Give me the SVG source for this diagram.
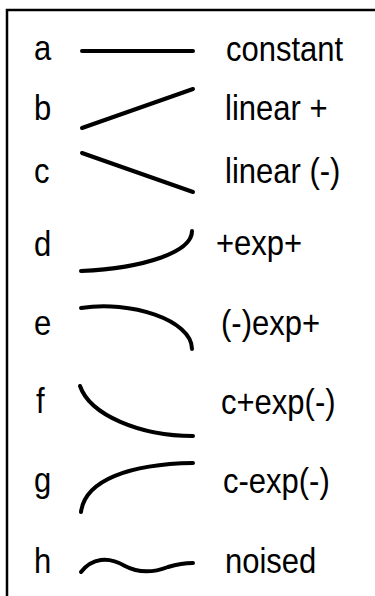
<svg xmlns="http://www.w3.org/2000/svg" width="375" height="596" viewBox="0 0 375 596">
<style>
text{font-family:"Liberation Sans",Arial,sans-serif;font-size:31px;fill:#000}
.c{fill:none;stroke:#000;stroke-width:4;stroke-linecap:round}
.f{fill:none;stroke:#000;stroke-width:2.5}
</style>
<rect width="375" height="596" fill="#fff"/>
<path class="f" d="M7,596 V10 H375"/>
<g id="row-a"><text transform="matrix(1,0,0,1.14,34,60)">a</text><path class="c" d="M82,51 H193"/><text transform="matrix(1,0,0,1.14,226,61)">constant</text></g>
<g id="row-b"><text transform="matrix(1,0,0,1.14,34,120)">b</text><path class="c" d="M82,128 L193,89"/><text transform="matrix(1,0,0,1.14,225,120)">linear +</text></g>
<g id="row-c"><text transform="matrix(1,0,0,1.14,34,183)">c</text><path class="c" d="M82,153 L193,192"/><text transform="matrix(1,0,0,1.14,225,183)">linear (-)</text></g>
<g id="row-d"><text transform="matrix(1,0,0,1.14,34,256)">d</text><path class="c" d="M81,271 C145,268 192,252 192,231"/><text transform="matrix(1,0,0,1.14,216,255)">+exp+</text></g>
<g id="row-e"><text transform="matrix(1,0,0,1.14,34,335)">e</text><path class="c" d="M81,308 C130,300 192,320 192,349"/><text transform="matrix(1,0,0,1.14,221,335)">(-)exp+</text></g>
<g id="row-f"><text transform="matrix(1,0,0,1.14,36,413)">f</text><path class="c" d="M80,386 C90,415 140,436 193,436"/><text transform="matrix(1,0,0,1.14,221,414)">c+exp(-)</text></g>
<g id="row-g"><text transform="matrix(1,0,0,1.14,34,492)">g</text><path class="c" d="M81,512 C85,480 130,464 193,463"/><text transform="matrix(1,0,0,1.14,223,493)">c-exp(-)</text></g>
<g id="row-h"><text transform="matrix(1,0,0,1.14,34,573)">h</text><path class="c" d="M81,572 C92,558 108,556 125,566 C140,574 155,572 168,567 C178,564 185,563 193,563"/><text transform="matrix(1,0,0,1.14,225,573)">noised</text></g>
</svg>
